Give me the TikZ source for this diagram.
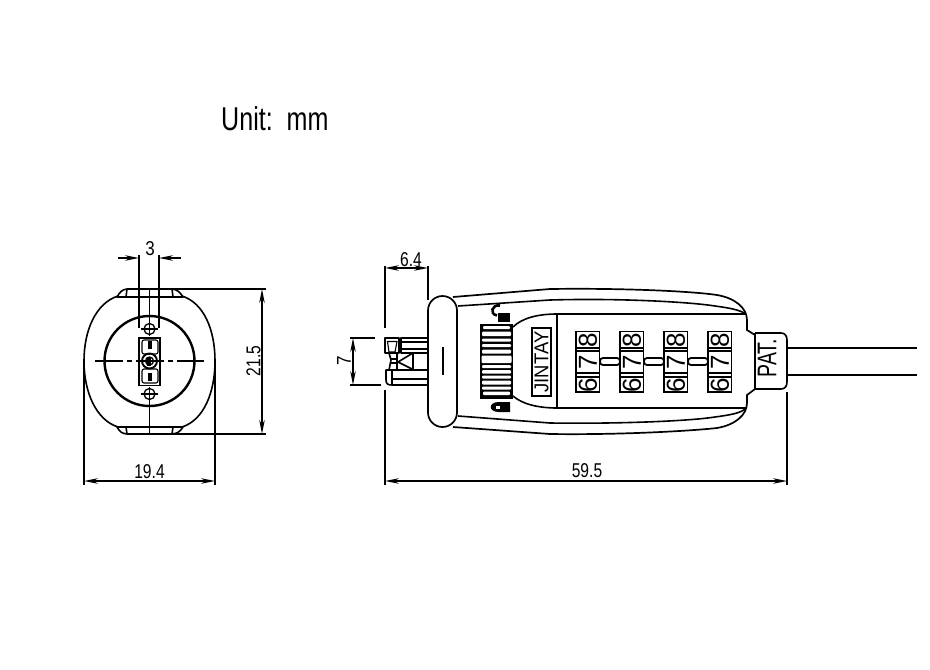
\documentclass[tikz,border=0pt]{standalone}
\usepackage{fontspec}
\setmainfont{Liberation Sans}
\usetikzlibrary{arrows.meta}
\newcommand{\dimfont}{\fontsize{20}{20}\selectfont}
\newcommand{\nar}[2]{\scalebox{#1}[1]{#2}}
\tikzset{
  ln/.style={line width=1.6pt,line join=round},
  thin ln/.style={line width=1.1pt,line join=round},
  dimline/.style={line width=1.3pt,-{Stealth[length=14pt,width=5.5pt]}},
  dimboth/.style={line width=1.3pt,{Stealth[length=14pt,width=5.5pt]}-{Stealth[length=14pt,width=5.5pt]}},
  extline/.style={line width=1.3pt},
  lbl/.style={inner sep=0pt,font=\dimfont},
  digit/.style={inner sep=0pt,rotate=90,font=\fontsize{26}{26}\selectfont},
}
\begin{document}
\begin{tikzpicture}[x=1pt,y=-1pt]
\useasboundingbox (0,0) rectangle (930,670);
\fill[white] (0,0) rectangle (930,670);

\node[inner sep=0pt,anchor=west,font=\fontsize{33}{33}\selectfont] (unit) at (221,118.5) {\nar{.76}{Unit:\ \ mm}};

% ---------- left view ----------
\draw[ln] (118,296) .. controls (96,303) and (84,330) .. (84,361) .. controls (84,392) and (96,420) .. (118,427);
\draw[ln] (182,296) .. controls (204,303) and (215,330) .. (215,361) .. controls (215,392) and (204,420) .. (182,427);
\draw[ln] (117,297) .. controls (120,292) and (122,289.5) .. (127,289) -- (172,289) .. controls (177,289.5) and (180,292) .. (183,297) -- cycle;
\draw[ln] (117,427) .. controls (120,432) and (122,433.5) .. (127,434) -- (172,434) .. controls (177,433.5) and (180,432) .. (183,427) -- cycle;
\draw[ln] (127,289) -- (126,297); \draw[ln] (172,289) -- (173,297);
\draw[ln] (127,434) -- (126,427); \draw[ln] (172,434) -- (173,427);
\node[circle,draw,line width=2.4pt,minimum size=90pt,inner sep=0pt] (face) at (149.5,361) {};
\draw[ln,dash pattern=on 28pt off 4pt on 5pt off 4pt] (95,361) -- (204,361);
\draw[ln] (149.5,289) -- (149.5,323);
\draw[ln] (149.5,400) -- (149.5,434);
\node[circle,draw,line width=1.3pt,minimum size=11pt,inner sep=0pt] (holeA) at (149.5,329) {};
\node[circle,draw,line width=1.3pt,minimum size=11pt,inner sep=0pt] (holeB) at (149.5,394) {};
\draw[thin ln] (141,329) -- (158,329) (149.5,322) -- (149.5,336);
\draw[thin ln] (141,394) -- (158,394) (149.5,387) -- (149.5,401);
\draw[line width=1.9pt] (139,338) rectangle (160,385.5);
\draw[thin ln,rounded corners=2pt] (142,340) rectangle (158,354);
\draw[thin ln,rounded corners=2pt] (142,369) rectangle (158,383);
\draw[thin ln] (149,341) -- (149,349) (151,341) -- (151,349);
\draw[thin ln] (149,373) -- (149,381) (151,373) -- (151,381);
\draw[line width=1.9pt] (149.5,361) circle[radius=7.5pt];
\draw[line width=1.3pt] (149.5,361) circle[radius=4pt];
\fill (147,357) rectangle (151,366);

% dim 3
\coordinate (d3a) at (139,258); \coordinate (d3b) at (159,258);
\coordinate (d3al) at (118,258); \coordinate (d3br) at (181,258);
\draw[extline] (d3a) -- ++(0,-3) (d3a) -- (139,328);
\draw[extline] (d3b) -- ++(0,-3) (d3b) -- (159,328);
\draw[dimline] (d3al) -- (d3a);
\draw[dimline] (d3br) -- (d3b);
\node[lbl] (t3) at (150,249) {\nar{.85}{3}};
% dim 21.5
\coordinate (d21t) at (262,289); \coordinate (d21b) at (262,434);
\draw[extline] (172,289) -- (266,289);
\draw[extline] (172,434) -- (266,434);
\draw[dimboth] (d21t) -- (d21b);
\node[lbl,rotate=90] (t21) at (253.5,361) {\nar{.78}{21.5}};
% dim 19.4
\coordinate (d19l) at (84,481); \coordinate (d19r) at (215,481);
\draw[extline] (84,361) -- (84,485);
\draw[extline] (215,361) -- (215,485);
\draw[dimboth] (d19l) -- (d19r);
\node[lbl] (t19) at (149.5,472) {\nar{.78}{19.4}};

% ---------- right view ----------
\draw[extline] (385,266) -- (385,328);
\draw[extline] (385,390) -- (385,485);
\draw[extline] (428,266) -- (428,300);
\draw[extline] (787,392) -- (787,485);
\coordinate (d6l) at (385,268); \coordinate (d6r) at (428,268);
\draw[dimboth] (d6l) -- (d6r);
\node[lbl] (t6) at (411,260) {\nar{.78}{6.4}};
\coordinate (d7t) at (353,338); \coordinate (d7b) at (353,385);
\draw[extline] (350,338) -- (375,338);
\draw[extline] (350,385) -- (381,385);
\draw[dimboth] (d7t) -- (d7b);
\node[lbl,rotate=90] (t7) at (344,361) {\nar{.85}{7}};
\coordinate (d59l) at (385,481); \coordinate (d59r) at (787,481);
\draw[dimboth] (d59l) -- (d59r);
\node[lbl] (t59) at (587,471) {\nar{.78}{59.5}};

% prongs
\draw[ln] (385,338) rectangle (399,353);
\draw[thin ln] (387.5,341.5) -- (397,341.5) -- (395,352) -- (389,352) -- cycle;
\draw[ln] (401,338) rectangle (428,353);
\draw[thin ln] (401,342) -- (428,342) (401,349) -- (428,349);
\draw[ln] (389,353) -- (391,360) -- (389,370);
\draw[ln] (397,353) -- (397,370);
\draw[line width=1.8pt] (390,359) -- (397,359) (390,363) -- (397,363);
\draw[ln] (398,362) -- (413,353) -- (413,369.5) -- cycle;
\draw[ln] (428,370) -- (386,370) -- (386,380) .. controls (386,384) and (388,385) .. (392,385) -- (428,385);
\draw[ln] (392,370) -- (392,385);
\draw[ln] (428,370) -- (428,385);
\draw[thin ln] (392,379) -- (428,379);

% pill
\node[draw,line width=1.7pt,fill=white,rounded corners=14.5pt,minimum width=29pt,minimum height=131pt,inner sep=0pt] (pill) at (442.5,361.5) {};
\draw[ln] (443,347) -- (443,375);

% body outline
\draw[line width=1.7pt] (453,297) -- (550,289) .. controls (620,288) and (690,291) .. (717,295) .. controls (735,298) and (747,308) .. (747,320) -- (747,330) -- (755,335);
\draw[line width=1.7pt] (453,427) -- (550,434) .. controls (620,435) and (690,431) .. (717,428) .. controls (735,425) and (747,415) .. (747,403) -- (747,395) -- (755,389);
\draw[ln] (458,306) -- (550,300) .. controls (620,298) and (690,302) .. (715,306) .. controls (730,308) and (740,310) .. (746,314);
\draw[ln] (458,416) -- (550,423) .. controls (620,424) and (690,421) .. (715,417) .. controls (730,415) and (742,413) .. (746,408);
\draw[ln] (513,327) .. controls (522,318) and (538,314) .. (557,314) -- (746,314);
\draw[ln] (513,396) .. controls (522,404) and (538,408) .. (557,408) -- (746,408);
\draw[ln] (557,314) -- (557,408);

% knob
\fill (480,323.5) rectangle (513,399);
\foreach \y/\h/\a/\b in {326/3/483/510,331.5/4.5/482/511,338.5/3/482/511,344/3/482/511,349.5/4/482/511,355.5/7.5/481.5/511.5,365/3/482/511,370/3.5/482/511,375.5/3/482/511,380.5/4/482/511,386.5/3/482/511,391.5/3.5/483/510}
  \fill[white,rounded corners=1pt] (\a,\y) rectangle (\b,\y+\h);

% lock icons
\fill (498,313) rectangle (510,322);
\draw[line width=2.6pt] (500,305.5) .. controls (492,304) and (489,314) .. (497,315.5);
\fill (499,402) -- (510,402) -- (510,412) -- (499,412) .. controls (488,412) and (488,402) .. (499,402) -- cycle;
\fill[white] (496,405.5) rectangle (499.5,409);

% JINTAY
\node[draw,line width=1.4pt,minimum width=19pt,minimum height=68pt,inner sep=0pt] (brand) at (541.5,362) {};
\node[inner sep=0pt,rotate=90,font=\fontsize{20}{20}\selectfont] (brandt) at (541.5,362) {\nar{.92}{JINTAY}};

% wheels
\foreach \n/\x in {a/576,b/620,c/664,d/708}{
  \draw[line width=1.8pt] (\x,331.5) rectangle (\x+23.5,392);
  \draw[line width=1.4pt] (\x,348) -- (\x+23.5,348) (\x,351) -- (\x+23.5,351);
  \draw[line width=1.4pt] (\x,373) -- (\x+23.5,373) (\x,377) -- (\x+23.5,377);
  \node[digit] (w8\n) at (\x+12,340) {8};
  \node[digit] (w7\n) at (\x+12,362.5) {7};
  \node[digit] (w6\n) at (\x+12,385.5) {6};
}
\foreach \x in {600,644,688}
  \draw[line width=1.8pt,fill=white,rounded corners=3pt] (\x,358) rectangle (\x+20,365);

% neck and PAT.
\draw[ln] (755,333) -- (755,389);
\draw[ln] (755,333) -- (781,333) .. controls (785,333) and (787,336) .. (787,340) -- (787,382) .. controls (787,386) and (785,389) .. (781,389) -- (755,389);
\node[inner sep=0pt,rotate=90,font=\fontsize{27}{27}\selectfont] (pat) at (767,358) {\nar{.72}{PAT.}};
\draw[ln] (787,348) -- (917,348);
\draw[ln] (787,375) -- (917,375);
\end{tikzpicture}
\end{document}
